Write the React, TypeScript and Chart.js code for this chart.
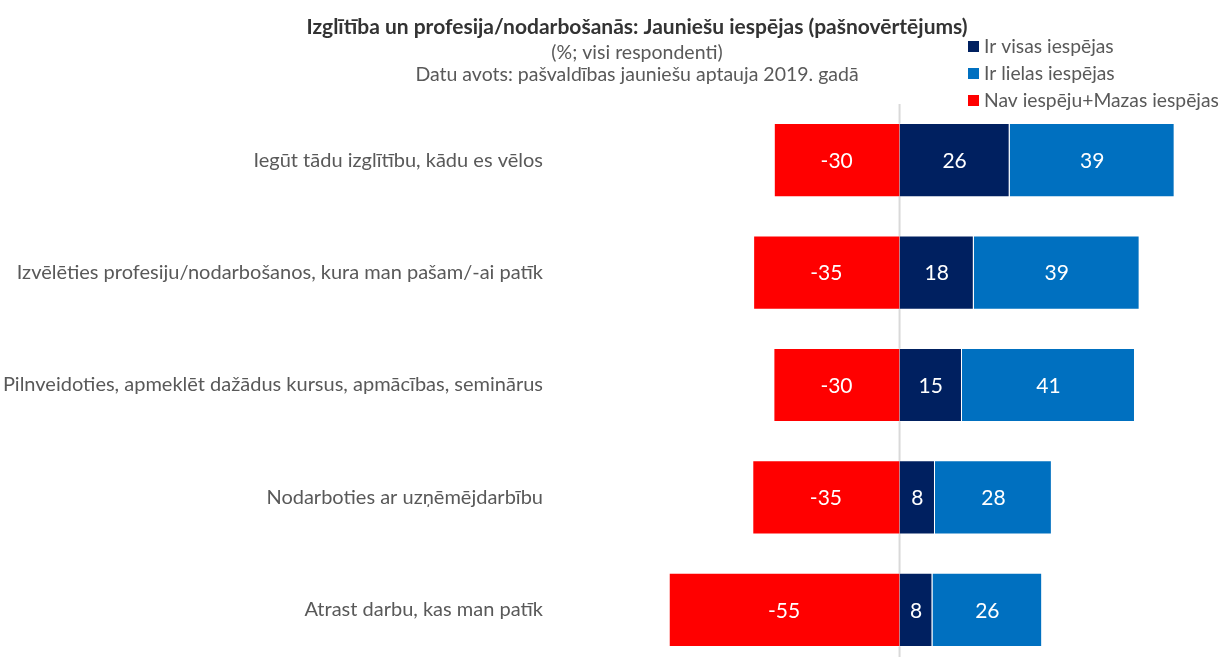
import React, { useEffect, useRef } from "react";
import { Chart, registerables } from "chart.js";

Chart.register(...registerables);

const categories = [
  "Iegūt tādu izglītību, kādu es vēlos",
  "Izvēlēties profesiju/nodarbošanos, kura man pašam/-ai patīk",
  "Pilnveidoties, apmeklēt dažādus kursus, apmācības, seminārus",
  "Nodarboties ar uzņēmējdarbību",
  "Atrast darbu, kas man patīk",
];
const noChanceValues = [-29.8, -34.7, -29.9, -34.9, -54.7];
const fullChanceValues = [26.1, 17.6, 14.8, 8.4, 7.8];
const goodChanceValues = [39.1, 39.3, 41.0, 27.7, 26.0];
const seriesNames = ["Nav iespēju+Mazas iespējas", "Ir visas iespējas", "Ir lielas iespējas"];
const seriesColors = ["#FF0000", "#002060", "#0070C0"];
const legendOrder = [1, 2, 0];
const titleText = "Izglītība un profesija/nodarbošanās: Jauniešu iespējas (pašnovērtējums)";
const subtitleLines = ["(%; visi respondenti)", "Datu avots: pašvaldības jauniešu aptauja 2019. gadā"];

const FONT = "Lato, 'Noto Sans', sans-serif";

const zeroLinePlugin = {
  id: "zeroLine",
  beforeDatasetsDraw(chart: any) {
    const ctx = chart.ctx;
    const x = chart.scales.x.getPixelForValue(0);
    ctx.save();
    ctx.strokeStyle = "#D9D9D9";
    ctx.lineWidth = 2;
    ctx.beginPath();
    ctx.moveTo(x, 104);
    ctx.lineTo(x, chart.height);
    ctx.stroke();
    ctx.restore();
  },
};

const textPlugin = {
  id: "customTexts",
  afterDraw(chart: any) {
    const ctx = chart.ctx;
    ctx.save();
    ctx.textAlign = "center";
    ctx.textBaseline = "middle";
    ctx.fillStyle = "#333333";
    ctx.font = `bold 21px ${FONT}`;
    ctx.fillText(titleText, 637, 27);
    ctx.fillStyle = "#595959";
    ctx.font = `19.5px ${FONT}`;
    ctx.fillText(subtitleLines[0], 637, 53);
    ctx.fillText(subtitleLines[1], 637, 75);
    ctx.textAlign = "left";
    legendOrder.forEach((di, i) => {
      const y = 46 + i * 27;
      ctx.fillStyle = seriesColors[di];
      ctx.fillRect(968, y - 5, 11, 11);
      ctx.fillStyle = "#595959";
      ctx.font = `19.3px ${FONT}`;
      ctx.fillText(seriesNames[di], 984, y + 1);
    });
    ctx.restore();
  },
};

const labelPlugin = {
  id: "barLabels",
  afterDatasetsDraw(chart: any) {
    const ctx = chart.ctx;
    ctx.save();
    ctx.fillStyle = "#FFFFFF";
    ctx.font = `21px ${FONT}`;
    ctx.textAlign = "center";
    ctx.textBaseline = "middle";
    chart.data.datasets.forEach((ds: any, di: number) => {
      const meta = chart.getDatasetMeta(di);
      meta.data.forEach((el: any, i: number) => {
        const p = el.getCenterPoint();
        ctx.fillText(String(Math.round(ds.data[i])), p.x, p.y + 1);
      });
    });
    ctx.restore();
  },
};

export default function App() {
  const ref = useRef<HTMLCanvasElement | null>(null);
  useEffect(() => {
    if (!ref.current) return;
    const chart = new Chart(ref.current, {
      type: "bar",
      data: {
        labels: categories,
        datasets: [
          { label: seriesNames[0], data: noChanceValues, backgroundColor: seriesColors[0] },
          { label: seriesNames[1], data: fullChanceValues, backgroundColor: seriesColors[1] },
          { label: seriesNames[2], data: goodChanceValues, backgroundColor: seriesColors[2] },
        ].map((d) => ({
          ...d,
          borderColor: "rgba(255,255,255,0.45)",
          borderWidth: 1,
          categoryPercentage: 0.66,
          barPercentage: 1,
        })),
      },
      options: {
        indexAxis: "y",
        animation: false,
        responsive: false,
        maintainAspectRatio: false,
        layout: { padding: { top: 104, bottom: 14, left: 0, right: 8 } },
        plugins: {
          legend: { display: false },
          title: { display: false },
          tooltip: { enabled: false },
        },
        scales: {
          x: {
            stacked: true,
            min: -80,
            max: 75,
            ticks: { display: false, stepSize: 10 },
            border: { display: false },
            grid: { display: false, drawTicks: false },
            afterFit: (scale: any) => {
              scale.height = 0;
            },
          },
          y: {
            stacked: true,
            border: { display: false },
            grid: { display: false, drawTicks: false },
            ticks: {
              color: "#595959",
              font: { family: FONT, size: 20 },
              padding: 19,
            },
            afterFit: (scale: any) => {
              scale.width = 562;
            },
          },
        },
      },
      plugins: [zeroLinePlugin, labelPlugin, textPlugin],
    });
    return () => chart.destroy();
  }, []);
  return (
    <div style={{ position: "absolute", left: 0, top: 0, width: 1224, height: 657, overflow: "hidden", background: "#fff" }}>
      <canvas ref={ref} width={1224} height={697} style={{ display: "block", width: 1224, height: 697 }} />
    </div>
  );
}
